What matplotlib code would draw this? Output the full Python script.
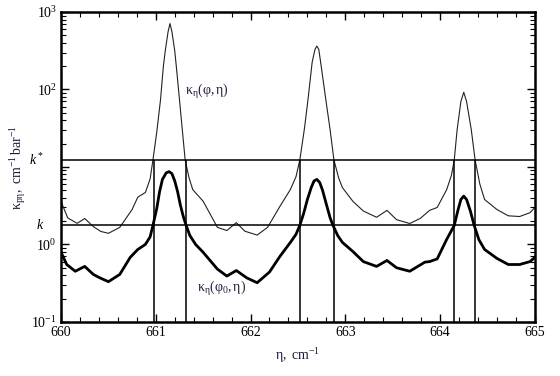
import numpy as np
import matplotlib
matplotlib.use("Agg")
import matplotlib.pyplot as plt
from matplotlib.ticker import LogLocator, MultipleLocator, NullFormatter, FixedLocator, FixedFormatter

plt.rcParams['font.family'] = ['Liberation Serif', 'DejaVu Serif']
plt.rcParams['mathtext.fontset'] = 'custom'
plt.rcParams['mathtext.rm'] = 'Liberation Serif'
plt.rcParams['mathtext.it'] = 'Liberation Serif:italic'

# thin curve kappa_eta(phi, eta)
eta_thin = [660.00, 660.07, 660.17, 660.25, 660.34, 660.42, 660.50, 660.62, 660.75, 660.81,
            660.89, 660.94, 660.97, 661.01, 661.05, 661.08, 661.10, 661.13, 661.15, 661.17,
            661.20, 661.22, 661.25, 661.28, 661.31, 661.35, 661.39, 661.50,
            661.65, 661.75, 661.85, 661.94, 662.07, 662.18, 662.31, 662.42, 662.48, 662.52,
            662.57, 662.61, 662.65, 662.68, 662.70, 662.72, 662.74, 662.79, 662.84, 662.88,
            662.93, 662.97, 663.08, 663.19, 663.33, 663.44,
            663.54, 663.68, 663.79, 663.89, 663.97, 664.07, 664.12, 664.15, 664.18, 664.22,
            664.25, 664.28, 664.33, 664.37, 664.42, 664.47, 664.60, 664.72, 664.84, 664.95, 665.00]
k_thin = [3.59, 2.2, 1.87, 2.16, 1.70, 1.47, 1.39, 1.66, 2.82, 4.07,
          4.68, 7.0, 12.3, 28, 74, 200, 316, 560, 710, 560,
          316, 180, 74, 30, 12.3, 7.3, 5.1, 3.6,
          1.66, 1.51, 1.91, 1.48, 1.32, 1.66, 3.1, 5.1, 7.5, 12.3,
          32, 81, 224, 330, 363, 330, 224, 81, 30, 12.3,
          7.2, 5.4, 3.6, 2.7, 2.24, 2.75,
          2.09, 1.86, 2.16, 2.75, 3.0, 5.1, 7.8, 12.3, 30, 70,
          92, 70, 30, 12.3, 6.0, 3.8, 2.82, 2.34, 2.29, 2.57, 3.0]

# thick curve kappa_eta(phi_0, eta)
eta_thick = [660.00, 660.06, 660.15, 660.25, 660.34, 660.41, 660.50, 660.62, 660.73, 660.81,
             660.89, 660.94, 660.97, 661.01, 661.04, 661.07, 661.11, 661.14, 661.17, 661.20,
             661.23, 661.26, 661.29, 661.32, 661.36, 661.42, 661.50,
             661.65, 661.75, 661.85, 661.96, 662.07, 662.20, 662.31, 662.42, 662.48, 662.52, 662.56,
             662.60, 662.64, 662.67, 662.70, 662.73, 662.76, 662.80, 662.84, 662.87, 662.92,
             662.97, 663.08, 663.19, 663.33, 663.44,
             663.54, 663.68, 663.84, 663.89, 663.97, 664.07, 664.15, 664.19, 664.22, 664.25,
             664.28, 664.32, 664.36, 664.41, 664.47, 664.60, 664.72, 664.84, 664.95, 665.00]
k_thick = [0.79, 0.55, 0.45, 0.52, 0.41, 0.37, 0.33, 0.41, 0.68, 0.86,
           1.0, 1.25, 1.76, 2.9, 4.8, 6.9, 8.4, 8.7, 8.2, 6.6,
           4.8, 3.2, 2.3, 1.76, 1.30, 1.0, 0.79,
           0.48, 0.39, 0.46, 0.37, 0.32, 0.44, 0.70, 1.06, 1.35, 1.76, 2.5,
           3.8, 5.4, 6.6, 6.9, 6.3, 5.0, 3.3, 2.2, 1.76, 1.30,
           1.06, 0.81, 0.60, 0.52, 0.62,
           0.50, 0.45, 0.59, 0.60, 0.65, 1.16, 1.76, 2.8, 3.8, 4.2,
           3.8, 2.7, 1.76, 1.15, 0.86, 0.66, 0.55, 0.55, 0.60, 0.68]

k_star = 12.3
k_low = 1.76
eta_cross = [660.98, 661.32, 662.52, 662.88, 664.15, 664.37]

y_ticks = [0.1, 1, 10, 100, 1000]
y_labels = [r'$\mathregular{10^{-1}}$', r'$\mathregular{10^0}$', '',
            r'$\mathregular{10^2}$', r'$\mathregular{10^3}$']

fig = plt.figure(figsize=(5.6, 3.76), dpi=100)
ax = fig.add_axes([0.109, 0.144, 0.846, 0.824])

ax.plot(eta_thin, k_thin, color='#222222', lw=0.8)
ax.plot(eta_thick, k_thick, color='black', lw=2.0)
ax.axhline(k_star, color='black', lw=1.1)
ax.axhline(k_low, color='black', lw=1.1)
ax.vlines(eta_cross, 0.1, k_star, color='black', lw=1.1)

ax.set_yscale('log')
ax.set_xlim(660, 665)
ax.set_ylim(0.1, 1000)
ax.xaxis.set_major_locator(MultipleLocator(1))
ax.xaxis.set_minor_locator(MultipleLocator(0.2))
ax.yaxis.set_major_locator(FixedLocator(y_ticks))
ax.yaxis.set_major_formatter(FixedFormatter(y_labels))
ax.yaxis.set_minor_locator(LogLocator(base=10, subs=np.arange(2, 10), numticks=10))
ax.yaxis.set_minor_formatter(NullFormatter())
ax.tick_params(which='both', direction='in', top=True, right=True, labelsize=10, pad=3)
ax.tick_params(which='major', length=6, width=1.0)
ax.tick_params(which='minor', length=3.5, width=0.8)
for s in ax.spines.values():
    s.set_linewidth(1.8)

ax.set_xlabel(r'$\mathregular{η,\ cm^{-1}}$', fontsize=10, color='#1a1a3a', labelpad=5)
ax.set_ylabel(r'$\mathregular{κ_{pη},\ cm^{-1}\,bar^{-1}}$', fontsize=10, color='#1a1a3a', labelpad=2)

ax.text(661.31, 94, r'$\mathregular{κ_η(φ,η)}$', fontsize=10, color='#2a1a40', va='center')
ax.text(661.43, 0.27, r'$\mathregular{κ_η(φ_0,η)}$', fontsize=10, color='#2a1a40', va='center')
ax.text(-0.035, k_star, r'$k^*$', transform=ax.get_yaxis_transform(), ha='right', va='center', fontsize=10)
ax.text(-0.035, k_low, r'$k$', transform=ax.get_yaxis_transform(), ha='right', va='center', fontsize=10)

fig.savefig('out.png', dpi=100)
